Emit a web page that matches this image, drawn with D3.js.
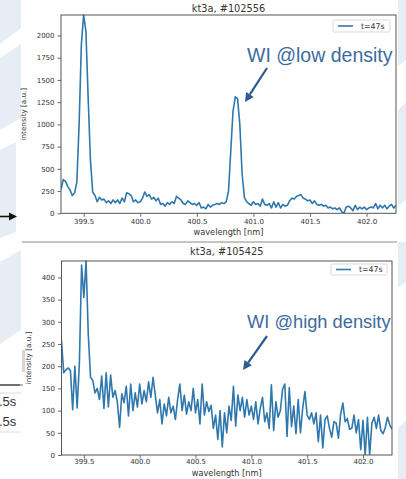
<!DOCTYPE html>
<html>
<head>
<meta charset="utf-8">
<script src="https://cdn.jsdelivr.net/npm/d3@7"></script>
<style>
  html, body { margin: 0; padding: 0; background: #ffffff; }
  svg { display: block; }
</style>
</head>
<body>
<script>
// Spectrometer wavelength grid [nm]
const wavelength = [
  399.30, 399.32, 399.34, 399.36, 399.38, 399.40, 399.42, 399.44, 399.46, 399.48,
  399.50, 399.52, 399.54, 399.56, 399.58, 399.60, 399.62, 399.64, 399.66, 399.68,
  399.70, 399.72, 399.74, 399.76, 399.78, 399.80, 399.82, 399.84, 399.86, 399.88,
  399.90, 399.92, 399.94, 399.96, 399.98, 400.00, 400.02, 400.04, 400.06, 400.08,
  400.10, 400.12, 400.14, 400.16, 400.18, 400.20, 400.22, 400.24, 400.26, 400.28,
  400.30, 400.32, 400.34, 400.36, 400.38, 400.40, 400.42, 400.44, 400.46, 400.48,
  400.50, 400.52, 400.54, 400.56, 400.58, 400.60, 400.62, 400.64, 400.66, 400.68,
  400.70, 400.72, 400.74, 400.76, 400.78, 400.80, 400.82, 400.84, 400.86, 400.88,
  400.90, 400.92, 400.94, 400.96, 400.98, 401.00, 401.02, 401.04, 401.06, 401.08,
  401.10, 401.12, 401.14, 401.16, 401.18, 401.20, 401.22, 401.24, 401.26, 401.28,
  401.30, 401.32, 401.34, 401.36, 401.38, 401.40, 401.42, 401.44, 401.46, 401.48,
  401.50, 401.52, 401.54, 401.56, 401.58, 401.60, 401.62, 401.64, 401.66, 401.68,
  401.70, 401.72, 401.74, 401.76, 401.78, 401.80, 401.82, 401.84, 401.86, 401.88,
  401.90, 401.92, 401.94, 401.96, 401.98, 402.00, 402.02, 402.04, 402.06, 402.08,
  402.10, 402.12, 402.14, 402.16, 402.18, 402.20, 402.22, 402.24, 402.26
];

// Shot #102556, t = 47 s (low density)
const intensityLow = [
  270, 380, 360, 300, 260, 200, 230, 350, 1000, 1900,
  2230, 2050, 1300, 600, 240, 200, 130, 180, 150, 160,
  120, 140, 110, 150, 120, 150, 110, 170, 130, 230,
  220, 200, 130, 150, 120, 130, 170, 240, 190, 210,
  160, 180, 140, 170, 100, 110, 80, 120, 100, 130,
  110, 190, 170, 150, 110, 100, 140, 120, 100, 110,
  90, 120, 60, 70, 50, 100, 70, 90, 100, 110,
  100, 120, 110, 130, 250, 700, 1150, 1310, 1290, 1000,
  450, 180, 130, 110, 90, 130, 100, 110, 80, 160,
  100, 90, 110, 60, 130, 70, 120, 60, 100, 80,
  90, 140, 170, 160, 190, 200, 210, 170, 160, 140,
  150, 110, 140, 100, 90, 100, 80, 90, 60, 70,
  50, 60, 40, 60, 20, 0, 70, 80, 60, 30,
  90, 40, 70, 50, 70, 40, 60, 70, 60, 110,
  50, 90, 60, 90, 50, 80, 100, 60, 90
];

// Shot #105425, t = 47 s (high density)
const intensityHigh = [
  258, 185, 192, 196, 190, 102, 200, 106, 205, 428,
  355, 437, 270, 175, 168, 140, 150, 125, 178, 105,
  185, 108, 180, 130, 145, 120, 62, 138, 118, 155,
  88, 160, 100, 140, 108, 160, 115, 145, 120, 165,
  130, 175, 135, 95, 125, 70, 115, 88, 130, 95,
  110, 80, 125, 160, 100, 135, 92, 120, 100, 150,
  95, 125, 70, 160, 90, 120, 98, 112, 60, 90,
  35, 100, 18, 95, 50, 110, 78, 155, 65, 135,
  100, 130, 85, 125, 90, 110, 80, 120, 70, 105,
  130, 75, 95, 60, 158, 55, 120, 85, 100, 148,
  160, 42, 152, 64, 110, 48, 125, 50, 105, 143,
  90, 80, 95, 70, 95, 30, 90, 16, 80, 88,
  60, 40, 75, 72, 38, 92, 117, 75, 82, 58,
  60, 90, 50, 80, 12, 78, 0, 85, 0, 72,
  85, 60, 90, 55, 48, 62, 85, 68, 58
];

const xTickValues = [399.5, 400.0, 400.5, 401.0, 401.5, 402.0];
const yTicksLow = [0, 250, 500, 750, 1000, 1250, 1500, 1750, 2000];
const yTicksHigh = [0, 50, 100, 150, 200, 250, 300, 350, 400];
const titles = ["kt3a, #102556", "kt3a, #105425"];
const legendLabel = "t=47s";
const notes = ["WI @low density", "WI @high density"];
const xLabel = "wavelength [nm]";
const yLabel = "intensity [a.u.]";

const W = 406, H = 479;
const LINE = "#2f77ad";
const MPL_FONT = "'DejaVu Sans', sans-serif";
const SLIDE_FONT = "'Liberation Sans', Arial, sans-serif";

const svg = d3.select("body").append("svg")
  .attr("width", W).attr("height", H)
  .attr("viewBox", `0 0 ${W} ${H}`);

svg.append("rect").attr("width", W).attr("height", H).attr("fill", "#ffffff");

// Slide background decoration (pale bands at the edges)
const deco = svg.append("g").attr("fill", "#e7edf5");
[
  [[0, 0], [21, 0], [21, 28], [0, 44]],
  [[0, 58], [21, 44], [21, 118], [0, 130]],
  [[0, 150], [16, 142], [16, 232], [0, 238]],
  [[0, 262], [21, 250], [21, 330], [0, 344]],
  [[398, 0], [406, 0], [406, 60], [398, 66]],
  [[398, 110], [406, 102], [406, 200], [398, 206]],
  [[398, 242], [406, 242], [406, 282], [398, 288]],
  [[398, 428], [406, 420], [406, 479], [398, 479]]
].forEach(pts => deco.append("polygon").attr("points", pts.map(p => p.join(",")).join(" ")));

// Fragments of neighbouring slide content
svg.append("line").attr("x1", 0).attr("x2", 15).attr("y1", 216.5).attr("y2", 216.5)
  .attr("stroke", "#111").attr("stroke-width", 1.6);
svg.append("polygon").attr("points", "9,212.5 17,216.5 9,220.5").attr("fill", "#111");

svg.append("line").attr("x1", 22).attr("x2", 397).attr("y1", 242).attr("y2", 242)
  .attr("stroke", "#8a8a8a").attr("stroke-width", 1);
svg.append("rect").attr("x", 22).attr("y", 350).attr("width", 3).attr("height", 22).attr("fill", "#d6d6d6");
svg.append("line").attr("x1", 0).attr("x2", 20).attr("y1", 385).attr("y2", 385)
  .attr("stroke", "#333").attr("stroke-width", 1.4);
svg.append("line").attr("x1", 20).attr("x2", 23).attr("y1", 385).attr("y2", 385)
  .attr("stroke", "#777").attr("stroke-width", 1);
svg.append("line").attr("x1", 0).attr("x2", 21).attr("y1", 393).attr("y2", 393)
  .attr("stroke", "#dcdcdc").attr("stroke-width", 1);
svg.append("line").attr("x1", 0).attr("x2", 21).attr("y1", 432).attr("y2", 432)
  .attr("stroke", "#dcdcdc").attr("stroke-width", 1);
[406, 426].forEach(y => svg.append("text").attr("x", -1).attr("y", y)
  .attr("font-family", SLIDE_FONT).attr("font-size", 13).attr("fill", "#333").text(".5s"));

const panels = [
  {
    values: intensityLow, yTicks: yTicksLow, title: titles[0], note: notes[0],
    box: { l: 61, r: 396, t: 15, b: 213.3 },
    titleY: 11.5, xTickBase: 224, xLabelY: 234.5, yLabelX: 26,
    legend: { x: 333, y: 20, w: 57, h: 12 },
    noteAt: { x: 247, y: 61.5, size: 19.5 },
    arrow: [[267, 68], [245, 102]]
  },
  {
    values: intensityHigh, yTicks: yTicksHigh, title: titles[1], note: notes[1],
    box: { l: 61.5, r: 392, t: 261, b: 455 },
    titleY: 255, xTickBase: 464, xLabelY: 475.5, yLabelX: 31,
    legend: { x: 331, y: 264, w: 56, h: 11 },
    noteAt: { x: 247, y: 328, size: 18.3 },
    arrow: [[267, 336], [243, 370]]
  }
];

panels.forEach((p, i) => {
  const g = svg.append("g");
  const b = p.box;

  const x = d3.scaleLinear().domain(d3.extent(wavelength)).range([b.l, b.r]);
  const y = d3.scaleLinear().domain([0, d3.max(p.values)]).range([b.b, b.t]);

  g.append("rect").attr("x", b.l).attr("y", b.t)
    .attr("width", b.r - b.l).attr("height", b.b - b.t).attr("fill", "#ffffff");

  const clipId = "clip" + i;
  g.append("clipPath").attr("id", clipId)
    .append("rect").attr("x", b.l).attr("y", b.t - 1)
    .attr("width", b.r - b.l).attr("height", b.b - b.t + 1);

  const line = d3.line().x((d, k) => x(wavelength[k])).y(d => y(d));
  g.append("path").datum(p.values)
    .attr("clip-path", `url(#${clipId})`)
    .attr("d", line)
    .attr("fill", "none").attr("stroke", LINE)
    .attr("stroke-width", 1.6).attr("stroke-linejoin", "round");

  // Axes
  const xAxis = d3.axisBottom(x).tickValues(xTickValues)
    .tickFormat(d3.format(".1f")).tickSize(3.5).tickPadding(2);
  const yAxis = d3.axisLeft(y).tickValues(p.yTicks)
    .tickFormat(d3.format("d")).tickSize(3.5).tickPadding(3);

  const gx = g.append("g").attr("transform", `translate(0,${b.b})`).call(xAxis);
  const gy = g.append("g").attr("transform", `translate(${b.l},0)`).call(yAxis);
  [gx, gy].forEach(a => {
    a.select(".domain").remove();
    a.selectAll(".tick line").attr("stroke", "#555").attr("stroke-width", 0.9);
    a.selectAll(".tick text").attr("font-family", MPL_FONT)
      .attr("font-size", 7).attr("fill", "#333");
  });
  gx.selectAll(".tick text").attr("dy", null).attr("y", p.xTickBase - b.b);

  g.append("rect").attr("x", b.l).attr("y", b.t)
    .attr("width", b.r - b.l).attr("height", b.b - b.t)
    .attr("fill", "none").attr("stroke", "#555").attr("stroke-width", 1);

  // Labels
  g.append("text").attr("x", (b.l + b.r) / 2).attr("y", p.titleY)
    .attr("text-anchor", "middle").attr("font-family", MPL_FONT)
    .attr("font-size", 9.8).attr("fill", "#333").text(p.title);
  g.append("text").attr("x", (b.l + b.r) / 2).attr("y", p.xLabelY)
    .attr("text-anchor", "middle").attr("font-family", MPL_FONT)
    .attr("font-size", 8.2).attr("fill", "#333").text(xLabel);
  g.append("text")
    .attr("transform", `translate(${p.yLabelX},${(b.t + b.b) / 2}) rotate(-90)`)
    .attr("text-anchor", "middle").attr("font-family", MPL_FONT)
    .attr("font-size", 7.2).attr("fill", "#333").text(yLabel);

  // Legend
  const L = p.legend;
  g.append("rect").attr("x", L.x).attr("y", L.y).attr("width", L.w).attr("height", L.h)
    .attr("rx", 1.5).attr("fill", "#ffffff").attr("stroke", "#cfcfcf").attr("stroke-width", 0.8);
  g.append("line").attr("x1", L.x + 5).attr("x2", L.x + 20)
    .attr("y1", L.y + L.h / 2).attr("y2", L.y + L.h / 2)
    .attr("stroke", LINE).attr("stroke-width", 1.6);
  g.append("text").attr("x", L.x + 28).attr("y", L.y + L.h / 2 + 2.6)
    .attr("font-family", MPL_FONT).attr("font-size", 7.8).attr("fill", "#333").text(legendLabel);

  // Annotation with arrow
  g.append("text").attr("x", p.noteAt.x).attr("y", p.noteAt.y)
    .attr("font-family", SLIDE_FONT).attr("font-size", p.noteAt.size)
    .attr("fill", "#3d6b9e").text(p.note);

  const [a0, a1] = p.arrow;
  const ang = Math.atan2(a1[1] - a0[1], a1[0] - a0[0]);
  const headLen = 9, headW = 4.5;
  const bx = a1[0] - headLen * Math.cos(ang), by = a1[1] - headLen * Math.sin(ang);
  g.append("line").attr("x1", a0[0]).attr("y1", a0[1]).attr("x2", bx).attr("y2", by)
    .attr("stroke", "#2b5b90").attr("stroke-width", 2.2);
  g.append("polygon").attr("fill", "#2b5b90").attr("points", [
    [a1[0], a1[1]],
    [bx + headW * Math.sin(ang), by - headW * Math.cos(ang)],
    [bx - headW * Math.sin(ang), by + headW * Math.cos(ang)]
  ].map(q => q.join(",")).join(" "));
});
</script>
</body>
</html>
